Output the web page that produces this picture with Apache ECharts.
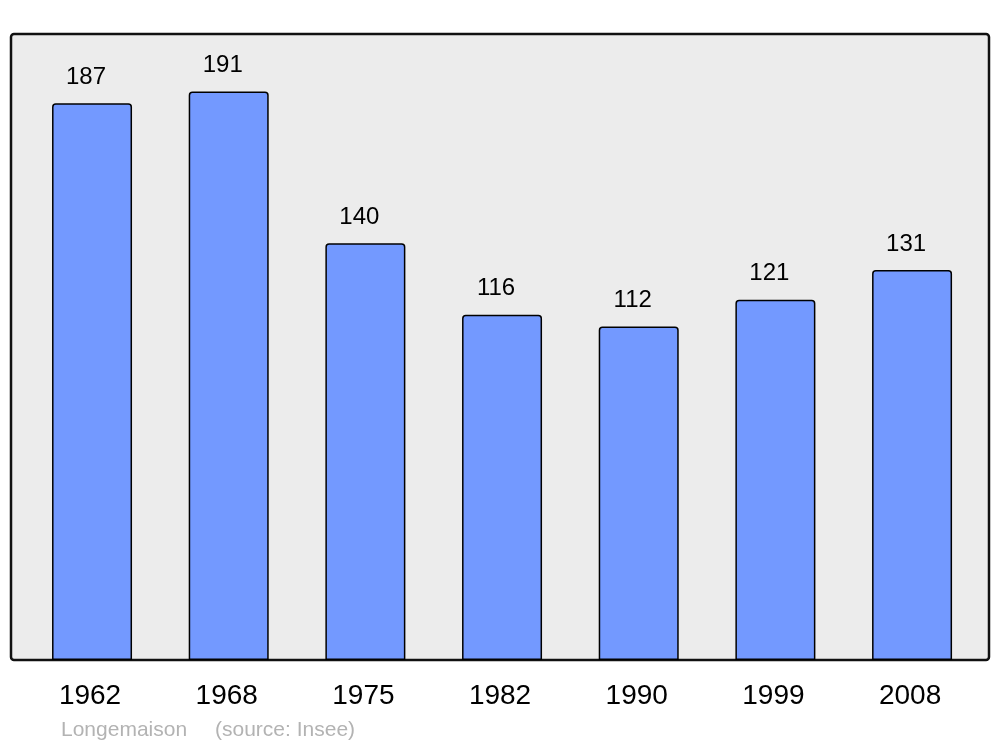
<!DOCTYPE html>
<html><head><meta charset="utf-8">
<script src="https://cdn.jsdelivr.net/npm/echarts@6/dist/echarts.min.js"></script>
<style>html,body{margin:0;padding:0;background:#fff}#c{width:1000px;height:747px}</style>
</head><body><div id="c"></div>
<script>
const years = ['1962','1968','1975','1982','1990','1999','2008'];
const population = [187,191,140,116,112,121,131];
const placeName = 'Longemaison';
const sourceText = '(source: Insee)';

const chart = echarts.init(document.getElementById('c'), null, {renderer:'canvas'});
chart.setOption({
  animation:false,
  backgroundColor:'#ffffff',
  grid:{left:23.7, width:956.7, top:34, height:626, containLabel:false},
  graphic:[
    {type:'rect', z:-10, shape:{x:11, y:34, width:978, height:626, r:3},
     style:{fill:'#ececec', stroke:'#111111', lineWidth:2.5}},
    {type:'text', left:61, top:720, style:{text:placeName, fill:'#b3b3b3', font:'21px "Liberation Sans", Arial, sans-serif'}},
    {type:'text', left:215, top:720, style:{text:sourceText, fill:'#b3b3b3', font:'21px "Liberation Sans", Arial, sans-serif'}}
  ],
  xAxis:{type:'category', data:years,
    axisLine:{show:false}, axisTick:{show:false}, splitLine:{show:false},
    axisLabel:{margin:22, fontSize:28, color:'#000', fontFamily:'"Liberation Sans", Arial, sans-serif'}},
  yAxis:{type:'value', min:0, max:210.3, show:false, splitLine:{show:false}},
  series:[{type:'bar', data:population, barWidth:80,
    itemStyle:{color:'#7399ff', borderColor:'#000', borderWidth:1.5, borderRadius:[3,3,0,0]},
    label:{show:true, position:'top', distance:14, offset:[-6,0], fontSize:24, color:'#000',
      fontFamily:'"Liberation Sans", Arial, sans-serif'}}]
});
chart.setOption({xAxis:{axisLabel:{formatter:function(v){return v;}, padding:[0,4,0,0]}}});
</script></body></html>
